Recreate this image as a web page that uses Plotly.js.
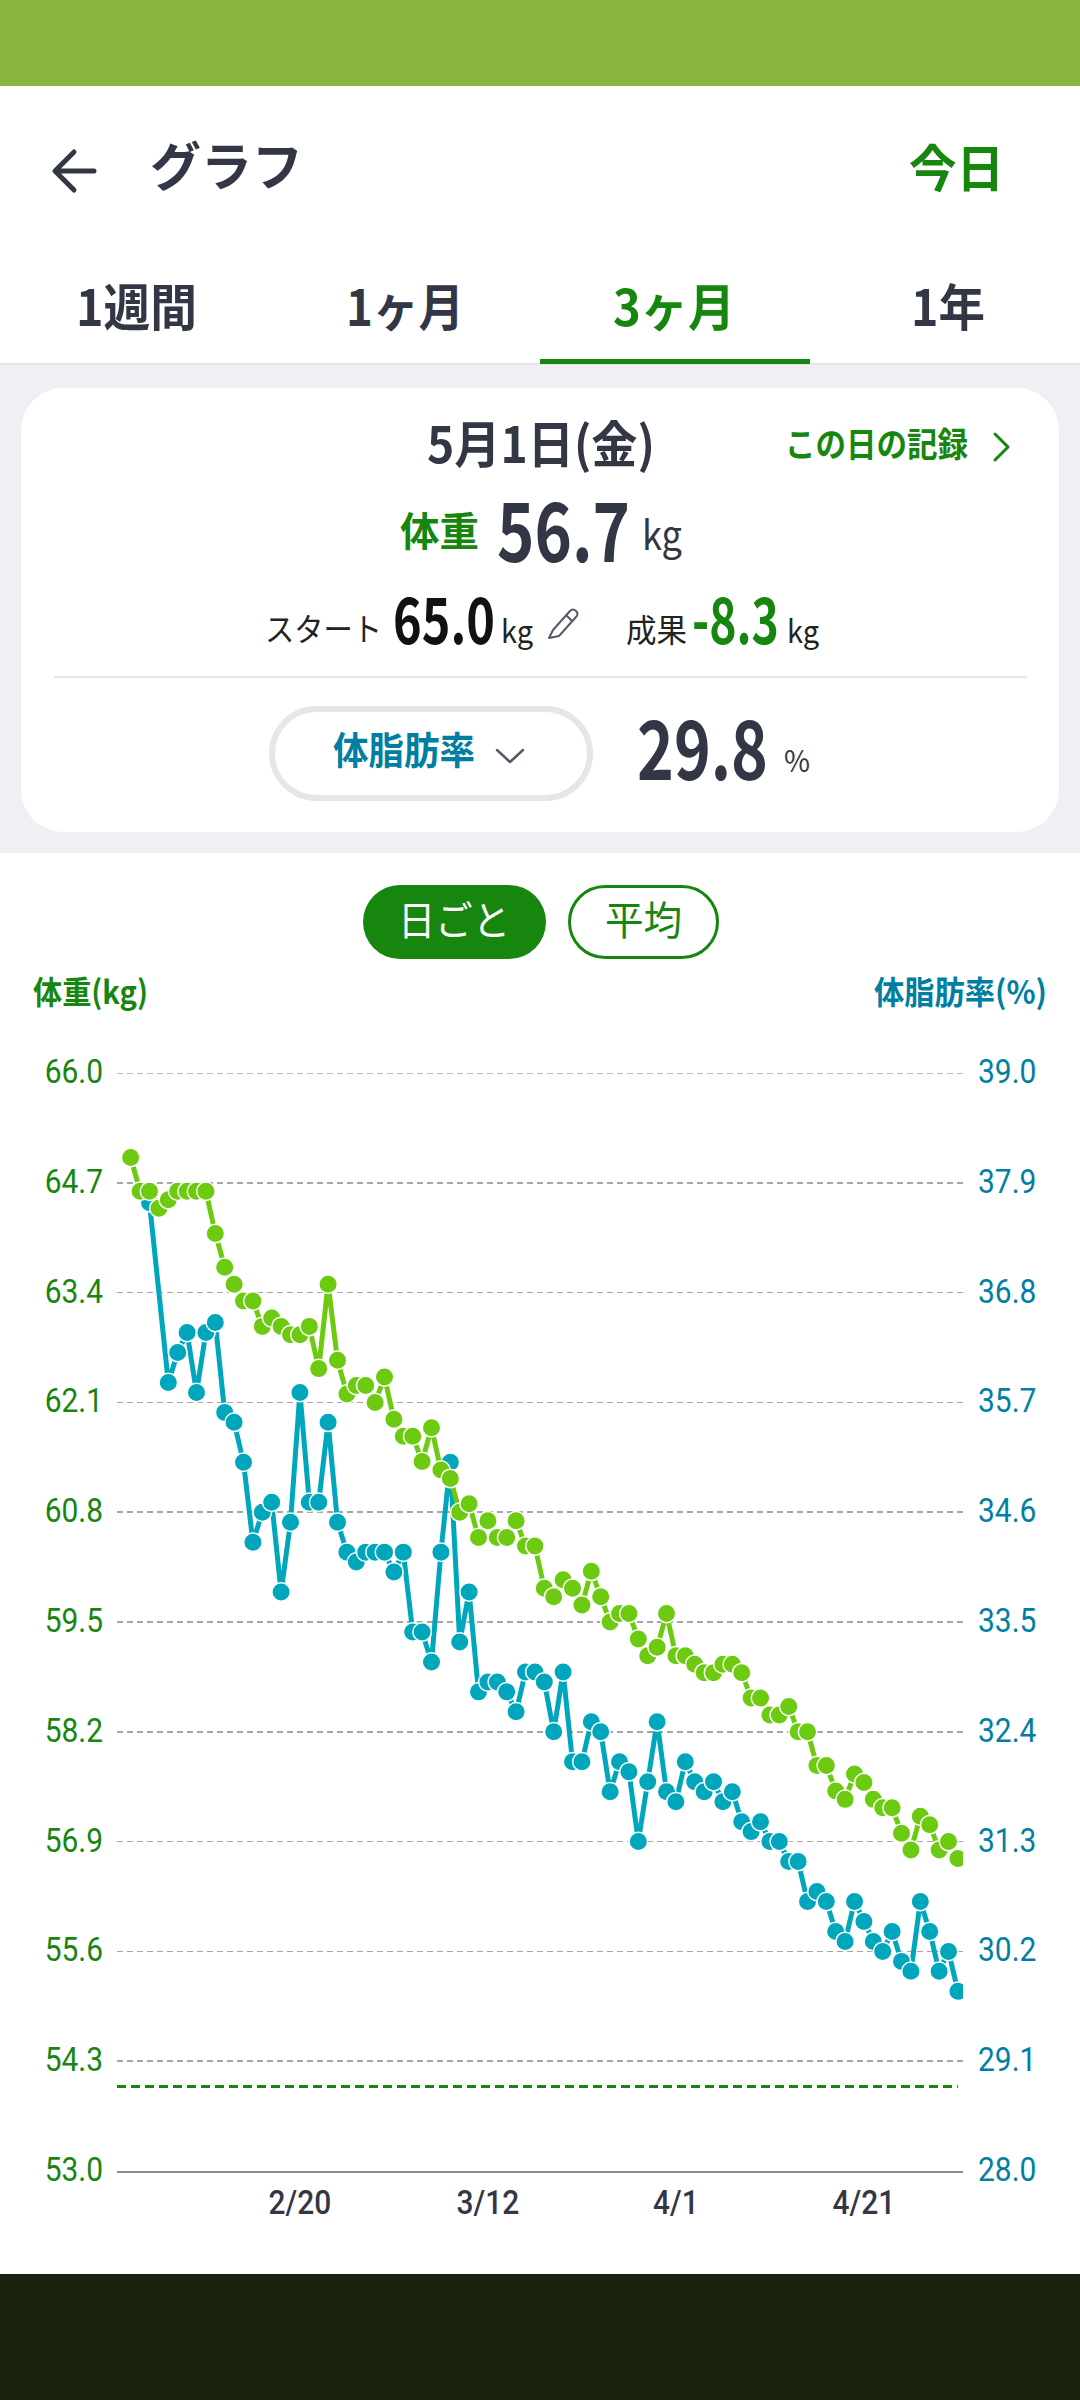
<!DOCTYPE html>
<html>
<head>
<meta charset="utf-8">
<title>グラフ</title>
<script src="https://cdn.plot.ly/plotly-3.0.1.min.js"></script>
<style>
html, body { margin: 0; padding: 0; background: #fff; }
#page { position: absolute; left: 0; top: 0; width: 1080px; height: 2400px; overflow: hidden; background: #fff;
	font-family: "Noto Sans CJK JP", "Noto Sans", sans-serif; }
#page > div, #page > span, #page > svg { position: absolute; box-sizing: border-box; }
#page > span { white-space: nowrap; line-height: 1; transform-origin: 0 50%; }
#plot { left: 0; top: 1000px; width: 1080px; height: 1270px; }
</style>
</head>
<body>
<div id="page">
	<div style="left:0;top:0;width:1080px;height:86px;background:#8AB742"></div>
	<div style="left:0;top:363px;width:1080px;height:490px;background:#EFEFF4;border-top:2px solid #E4E4E8"></div>
	<div style="left:540px;top:359px;width:270px;height:5px;background:#17860F"></div>
	<div style="left:21px;top:388px;width:1038px;height:444px;background:#fff;border-radius:42px"></div>
	<div style="left:54px;top:676px;width:973px;height:2px;background:#E4E4E4"></div>
	<div style="left:269px;top:706px;width:324px;height:95px;background:#fff;border:6px solid #E6E6E6;border-radius:48px"></div>
	<div style="left:363px;top:885px;width:183px;height:74px;background:#17860F;border-radius:37px"></div>
	<div style="left:568px;top:885px;width:151px;height:74px;background:#fff;border:3px solid #17860F;border-radius:37px"></div>
	<div style="left:0;top:2274px;width:1080px;height:126px;background:#1B230E"></div>
	<svg style="left:0;top:0" width="1080" height="1000" fill="none" stroke-linecap="round" stroke-linejoin="round">
		<path d="M94 171H57M74 152L55 171L74 190" stroke="#333645" stroke-width="5"/>
		<path d="M995 434L1008 447L995 460" stroke="#17860F" stroke-width="3"/>
		<path d="M497 750L510 762L523 750" stroke="#555A6A" stroke-width="2.5"/>
		<path d="M553 630L570 611Q573 608 576 611Q579 614 576 617L559 636L549 638ZM566 615L572 621" stroke="#555A6A" stroke-width="2"/>
	</svg>
	<div id="plot"></div>
</div>
<script>
// 日付 2/2 から 5/1 まで
const dates = [
	'2/2','2/3','2/4','2/5','2/6','2/7','2/8','2/9','2/10','2/11','2/12','2/13','2/14','2/15','2/16','2/17','2/18','2/19','2/20','2/21','2/22','2/23','2/24','2/25','2/26','2/27','2/28',
	'3/1','3/2','3/3','3/4','3/5','3/6','3/7','3/8','3/9','3/10','3/11','3/12','3/13','3/14','3/15','3/16','3/17','3/18','3/19','3/20','3/21','3/22','3/23','3/24','3/25','3/26','3/27','3/28','3/29','3/30','3/31',
	'4/1','4/2','4/3','4/4','4/5','4/6','4/7','4/8','4/9','4/10','4/11','4/12','4/13','4/14','4/15','4/16','4/17','4/18','4/19','4/20','4/21','4/22','4/23','4/24','4/25','4/26','4/27','4/28','4/29','4/30',
	'5/1'
]
const weight = [
	65.0,64.6,64.6,64.4,64.5,64.6,64.6,64.6,64.6,64.1,
	63.7,63.5,63.3,63.3,63.0,63.1,63.0,62.9,62.9,63.0,
	62.5,63.5,62.6,62.2,62.3,62.3,62.1,62.4,61.9,61.7,
	61.7,61.4,61.8,61.3,61.2,60.8,60.9,60.5,60.7,60.5,
	60.5,60.7,60.4,60.4,59.9,59.8,60.0,59.9,59.7,60.1,
	59.8,59.5,59.6,59.6,59.3,59.1,59.2,59.6,59.1,59.1,
	59.0,58.9,58.9,59.0,59.0,58.9,58.6,58.6,58.4,58.4,
	58.5,58.2,58.2,57.8,57.8,57.5,57.4,57.7,57.6,57.4,
	57.3,57.3,57.0,56.8,57.2,57.1,56.8,56.9,56.7
]
// 記録のない日は null
const bodyFat = [
	null,null,37.7,null,35.9,36.2,36.4,35.8,36.4,36.5,
	35.6,35.5,35.1,34.3,34.6,34.7,33.8,34.5,35.8,34.7,
	34.7,35.5,34.5,34.2,34.1,34.2,34.2,34.2,34.0,34.2,
	33.4,33.4,33.1,34.2,35.1,33.3,33.8,32.8,32.9,32.9,
	32.8,32.6,33.0,33.0,32.9,32.4,33.0,32.1,32.1,32.5,
	32.4,31.8,32.1,32.0,31.3,31.9,32.5,31.8,31.7,32.1,
	31.9,31.8,31.9,31.7,31.8,31.5,31.4,31.5,31.3,31.3,
	31.1,31.1,30.7,30.8,30.7,30.4,30.3,30.7,30.5,30.3,
	30.2,30.4,30.1,30.0,30.7,30.4,30.0,30.2,29.8
]
const weightTicks = [53.0,54.3,55.6,56.9,58.2,59.5,60.8,62.1,63.4,64.7,66.0]
const fatTicks = [28.0,29.1,30.2,31.3,32.4,33.5,34.6,35.7,36.8,37.9,39.0]
const dateTicks = ['2/20','3/12','4/1','4/21']
const goalWeight = 54.0

const GREEN = '#17860F'
const BLUE_TEXT = '#007FA3'
const DARK = '#333645'

// 文字を x0〜x1 の幅に合わせて置く(アプリのフォントは少し細い)
function put(text, x0, x1, y, size, color, weight_) {
	const s = document.createElement('span')
	s.textContent = text
	s.style.left = x0 + 'px'
	s.style.top = (y - 3) + 'px'
	s.style.fontSize = size + 'px'
	s.style.color = color
	s.style.fontWeight = weight_ || 400
	document.getElementById('page').appendChild(s)
	const w = s.getBoundingClientRect().width
	s.style.transform = 'translateY(-50%) scaleX(' + ((x1 - x0) / w) + ')'
}

put('グラフ', 150, 303, 167, 52, DARK, 700)
put('今日', 909, 1004, 168, 50, GREEN, 700)
put('1週間', 76, 197, 307, 50, DARK, 700)
put('1ヶ月', 346, 464, 307, 50, DARK, 700)
put('3ヶ月', 613, 735, 307, 50, GREEN, 700)
put('1年', 911, 985, 307, 50, DARK, 700)
put('5月1日(金)', 427, 655, 444, 50, DARK, 700)
put('この日の記録', 785, 968, 446, 34, GREEN, 700)
put('体重', 400, 479, 532, 40, GREEN, 700)
put('56.7', 497, 630, 530, 82, DARK, 700)
put('kg', 642, 682, 536, 40, DARK, 400)
put('スタート', 265, 382, 630, 32, '#222', 400)
put('65.0', 393, 495, 619, 64, '#111', 700)
put('kg', 501, 533, 632, 32, '#222', 400)
put('成果', 626, 687, 631, 32, '#222', 400)
put('-8.3', 692, 779, 619, 64, GREEN, 700)
put('kg', 787, 819, 632, 32, '#222', 400)
put('体脂肪率', 333, 475, 751, 38, BLUE_TEXT, 700)
put('29.8', 637, 768, 748, 82, DARK, 700)
put('%', 784, 810, 762, 30, DARK, 400)
put('日ごと', 398, 510, 921, 40, '#fff', 400)
put('平均', 605, 682, 921, 40, GREEN, 400)
put('体重(kg)', 33, 148, 993, 32, GREEN, 700)
put('体脂肪率(%)', 874, 1047, 993, 32, BLUE_TEXT, 700)

const fatTrace = {
	x: dates, y: bodyFat, yaxis: 'y', type: 'scatter', mode: 'lines+markers', connectgaps: true,
	line: {color: '#00A7BC', width: 5},
	marker: {color: '#00A7BC', size: 18.5, line: {color: '#fff', width: 1.5}},
	hoverinfo: 'skip'
}
const weightTrace = {
	x: dates, y: weight, yaxis: 'y2', type: 'scatter', mode: 'lines+markers',
	line: {color: '#6CCB10', width: 5},
	marker: {color: '#6CCB10', size: 18.5, line: {color: '#fff', width: 1.5}},
	hoverinfo: 'skip'
}

const tickFont = {family: 'Roboto, sans-serif', size: 34}
const layout = {
	width: 1080, height: 1270,
	margin: {l: 117, r: 117, t: 73, b: 99, pad: 0},
	paper_bgcolor: 'rgba(0,0,0,0)', plot_bgcolor: 'rgba(0,0,0,0)',
	showlegend: false,
	xaxis: {
		type: 'category', categoryorder: 'array', categoryarray: dates,
		range: [-1.457, 88.54], fixedrange: true,
		tickmode: 'array', tickvals: dateTicks, ticktext: dateTicks, ticks: '',
		tickfont: {family: 'Roboto, sans-serif', size: 34, color: DARK, weight: 500},
		showgrid: false, zeroline: false,
		showline: true, linecolor: '#8C8C8C', linewidth: 1.5, ticklabelstandoff: 1
	},
	yaxis: {
		side: 'right', range: [28, 39], fixedrange: true,
		tickmode: 'array', tickvals: fatTicks, ticktext: fatTicks.map(v => v.toFixed(1)), ticks: '',
		tickfont: Object.assign({color: BLUE_TEXT}, tickFont), ticklabelstandoff: 14,
		showgrid: true, gridcolor: '#A6A6A6', gridwidth: 1.5, griddash: '6px,4px', zeroline: false
	},
	yaxis2: {
		side: 'left', overlaying: 'y', range: [53, 66], fixedrange: true,
		tickmode: 'array', tickvals: weightTicks, ticktext: weightTicks.map(v => v.toFixed(1)), ticks: '',
		tickfont: Object.assign({color: GREEN}, tickFont), ticklabelstandoff: 13,
		showgrid: false, zeroline: false
	},
	shapes: [{
		// 目標体重の線
		type: 'line', xref: 'x', yref: 'y2', layer: 'below',
		x0: -1.457, x1: 88, y0: goalWeight, y1: goalWeight,
		line: {color: GREEN, width: 3, dash: '9px,5px'}
	}, {
		// 一番上の目盛線(軸の端なのでPlotlyが描かない)
		type: 'line', xref: 'paper', yref: 'y2', layer: 'below',
		x0: 0, x1: 1, y0: weightTicks[weightTicks.length - 1], y1: weightTicks[weightTicks.length - 1],
		line: {color: '#A6A6A6', width: 1.5, dash: '6px,4px'}
	}]
}

Plotly.newPlot('plot', [fatTrace, weightTrace], layout, {displayModeBar: false, staticPlot: true}).then(function () {
	// 目盛の数字を細めに詰める
	document.querySelectorAll('#plot .xtick text, #plot .ytick text, #plot .y2tick text').forEach(function (t) {
		t.setAttribute('textLength', t.getComputedTextLength() * 0.88)
		t.setAttribute('lengthAdjust', 'spacingAndGlyphs')
	})
	document.querySelectorAll('#plot .ytick text, #plot .y2tick text').forEach(function (t) {
		t.setAttribute('dy', -2)
	})
})
</script>
</body>
</html>
